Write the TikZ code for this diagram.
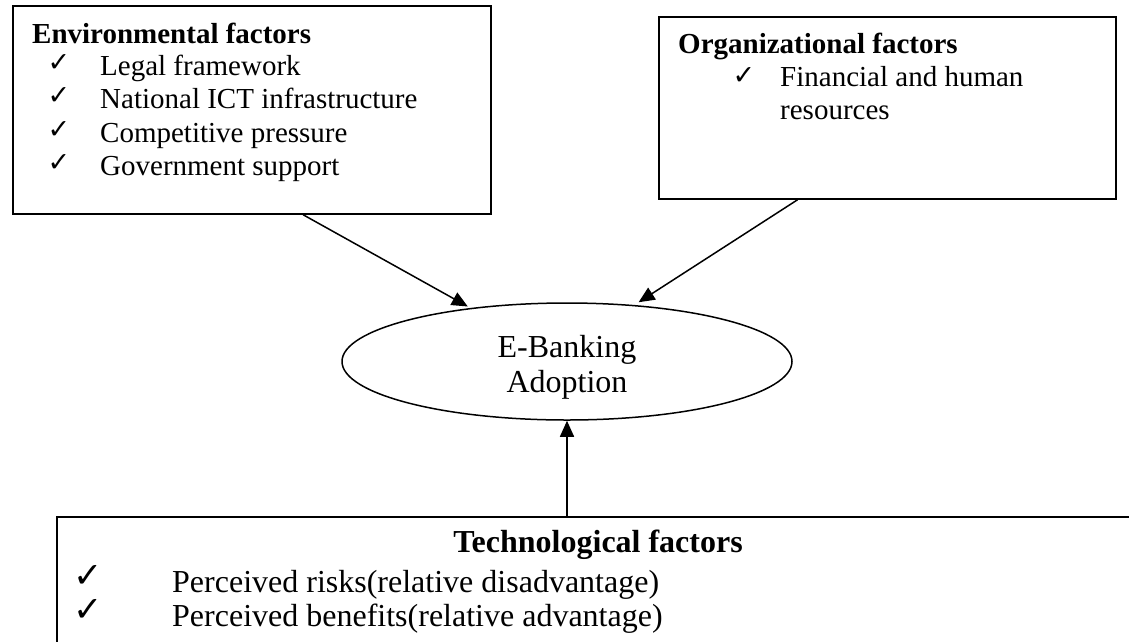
\documentclass[tikz,border=0pt]{standalone}
\usepackage{fontspec}
\setmainfont{Liberation Serif}
\newfontfamily\symfont{DejaVu Sans}
\usetikzlibrary{arrows.meta,calc,shapes.geometric}
\begin{document}
\begin{tikzpicture}[x=1pt,y=-1pt,
  boxst/.style={draw,line width=1.8pt,rectangle,inner sep=0pt,anchor=north west},
  ellst/.style={draw,line width=1.5pt,ellipse,inner sep=0pt,minimum width=450pt,minimum height=117pt},
  txt/.style={inner sep=0pt,anchor=base west,font=\fontsize{29}{33}\selectfont},
  head/.style={inner sep=0pt,anchor=base west,font=\fontsize{29}{33}\selectfont\bfseries},
  ttxt/.style={inner sep=0pt,anchor=base west,font=\fontsize{32}{34}\selectfont},
  thead/.style={inner sep=0pt,anchor=base,font=\fontsize{32}{34}\selectfont\bfseries},
  etxt/.style={inner sep=0pt,anchor=base,font=\fontsize{32}{35}\selectfont},
  chk/.style={inner sep=0pt,anchor=center,font=\symfont\fontsize{27}{27}\selectfont},
  tchk/.style={inner sep=0pt,anchor=center,font=\symfont\fontsize{35}{35}\selectfont},
  arr/.style={line width=1.5pt,-{Triangle[length=16pt,width=14pt]}}
]
\useasboundingbox (0,0) rectangle (1129,641);
\clip (0,0) rectangle (1129,641);

% boxes
\node[boxst,minimum width=478pt,minimum height=208pt] (env) at (12,5) {};
\node[boxst,minimum width=457pt,minimum height=182pt] (org) at (658,16) {};
\node[boxst,minimum width=1100pt,minimum height=160pt] (tech) at (56,516) {};
\node[ellst] (ell) at (567,361.5) {};

% environmental texts
\node[head] (envh) at (32,43) {Environmental factors};
\node[chk] (envc1) at (59,63) {✓};
\node[txt] (env1) at (100,75) {Legal framework};
\node[chk] (envc2) at (59,96) {✓};
\node[txt] (env2) at (100,108) {National ICT infrastructure};
\node[chk] (envc3) at (59,130) {✓};
\node[txt] (env3) at (100,142) {Competitive pressure};
\node[chk] (envc4) at (59,163) {✓};
\node[txt] (env4) at (100,175) {Government support};

% organizational texts
\node[head] (orgh) at (678,53) {Organizational factors};
\node[chk] (orgc1) at (744,76) {✓};
\node[txt] (org1) at (780,86) {Financial and human};
\node[txt] (org2) at (780,119) {resources};

% ellipse texts
\node[etxt] (ell1) at (567,357) {E-Banking};
\node[etxt] (ell2) at (567,392) {Adoption};

% technological texts
\node[thead] (techh) at (598,552) {Technological factors};
\node[tchk] (techc1) at (88,576) {✓};
\node[ttxt] (tech1) at (172,592) {Perceived risks(relative disadvantage)};
\node[tchk] (techc2) at (88,610) {✓};
\node[ttxt] (tech2) at (172,626) {Perceived benefits(relative advantage)};

% connectors
\draw[arr,shorten >=3pt] ($(env.south west)!0.607!(env.south east)$) -- (ell.151.8);
\draw[arr,shorten >=5pt] ($(org.south west)!0.304!(org.south east)$) -- (ell.40.8);
\draw[arr] (tech.north -| ell.south) -- (ell.south);
\end{tikzpicture}
\end{document}
